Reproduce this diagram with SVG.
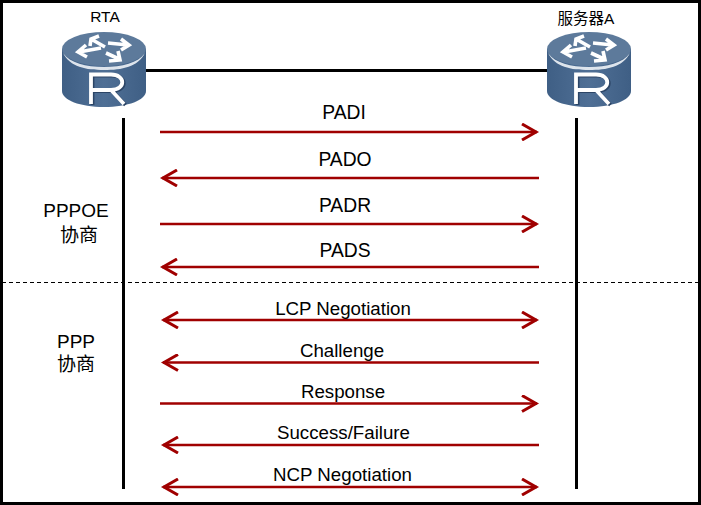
<svg xmlns="http://www.w3.org/2000/svg" width="701" height="505" viewBox="0 0 701 505">
<style>
text{font-family:"Liberation Sans","Noto Sans CJK SC",sans-serif;fill:#000;text-anchor:middle}
.m{font-size:18.700px}
.p{font-size:19.300px}
.s{font-size:15.500px}
.g{font-size:19px}
.v{stroke:#000;stroke-width:3;fill:none}
.a{stroke:#a00000;stroke-width:2.6;fill:none}
</style>
<defs>
<marker id="h" viewBox="0 0 20 18" refX="17" refY="9" markerWidth="20" markerHeight="18" markerUnits="userSpaceOnUse" orient="auto-start-reverse">
<path d="M2 1 L16 9 L2 17" fill="none" stroke="#a00000" stroke-width="3"/>
</marker>
<linearGradient id="b" x1="0" x2="1" y1="0" y2="0"><stop offset="0" stop-color="#3f5f85"/><stop offset=".5" stop-color="#4f6f95"/><stop offset="1" stop-color="#3f5f85"/></linearGradient>
<g id="router">
<path d="M-42 -21 V21 C-42 30 -24 37 0 37 C24 37 42 30 42 21 V-21 Z" fill="url(#b)"/>
<ellipse cx="0" cy="-21" rx="42" ry="17" fill="#5d7a9b"/>
<path d="M-41 -17 C-34 -7 -18 -3 0 -3 C18 -3 34 -7 41 -17 C34 -3 18 0 0 0 C-18 0 -34 -3 -41 -17 Z" fill="#dde4ec"/>
<g fill="none" stroke="#fff" stroke-width="3.600">
<path d="M1 -23 L-13 -31 M-14 -24 L-13 -31 L-5 -34"/>
<path d="M4 -27 L24 -25 M17 -31 L25 -25 L17 -20"/>
<path d="M-3 -22 L-25 -18 M-18 -25 L-26 -18 L-17 -13"/>
<path d="M2 -17 L15 -11 M5 -9 L16 -10 L14 -19"/>
</g>
<path d="M-13 34 V4.500 H7 C22 4.500 22 20 7 20 H-13 M7 20 L20 34" fill="none" stroke="#2c4566" stroke-width="3.800" transform="translate(1.500 1)"/>
<path d="M-13 34 V4.500 H7 C22 4.500 22 20 7 20 H-13 M7 20 L20 34" fill="none" stroke="#fff" stroke-width="3.800"/>
</g>
</defs>
<rect x="1.500" y="1.500" width="698" height="502" fill="#fff" stroke="#000" stroke-width="3"/>
<g id="connectors">
<line x1="145" y1="70.500" x2="548" y2="70.500" stroke="#000" stroke-width="3"/>
<line class="v" x1="123.500" y1="118" x2="123.500" y2="489"/>
<line class="v" x1="576.500" y1="118" x2="576.500" y2="489"/>
<line x1="2" y1="282.500" x2="699" y2="282.500" stroke="#000" stroke-width="1" stroke-dasharray="4 3"/>
<line class="a" x1="160" y1="132" x2="537" y2="132" marker-end="url(#h)"/>
<line class="a" x1="539" y1="178" x2="162" y2="178" marker-end="url(#h)"/>
<line class="a" x1="160" y1="224" x2="537" y2="224" marker-end="url(#h)"/>
<line class="a" x1="539" y1="267" x2="162" y2="267" marker-end="url(#h)"/>
<line class="a" x1="163" y1="320" x2="537" y2="320" marker-start="url(#h)" marker-end="url(#h)"/>
<line class="a" x1="539" y1="362.500" x2="163" y2="362.500" marker-end="url(#h)"/>
<line class="a" x1="160" y1="403.500" x2="537" y2="403.500" marker-end="url(#h)"/>
<line class="a" x1="539" y1="445" x2="163" y2="445" marker-end="url(#h)"/>
<line class="a" x1="163" y1="487" x2="537" y2="487" marker-start="url(#h)" marker-end="url(#h)"/>
</g>
<g id="rta"><use href="#router" x="104" y="70"/><text class="s" x="105" y="22">RTA</text></g>
<g id="serverA"><use href="#router" x="589" y="70"/><text class="s" x="586" y="24">服务器A</text></g>
<g id="labels">
<text class="p" x="344" y="119">PADI</text>
<text class="p" x="345" y="166">PADO</text>
<text class="p" x="345" y="212">PADR</text>
<text class="p" x="345" y="257">PADS</text>
<text class="m" x="343" y="315">LCP Negotiation</text>
<text class="m" x="342" y="357">Challenge</text>
<text class="m" x="343" y="398">Response</text>
<text class="m" x="343.500" y="439">Success/Failure</text>
<text class="m" x="342.500" y="481">NCP Negotiation</text>
<text class="g" x="76" y="217">PPPOE</text>
<text class="g" x="79" y="242">协商</text>
<text class="g" x="76" y="348">PPP</text>
<text class="g" x="76" y="371">协商</text>
</g>
</svg>
